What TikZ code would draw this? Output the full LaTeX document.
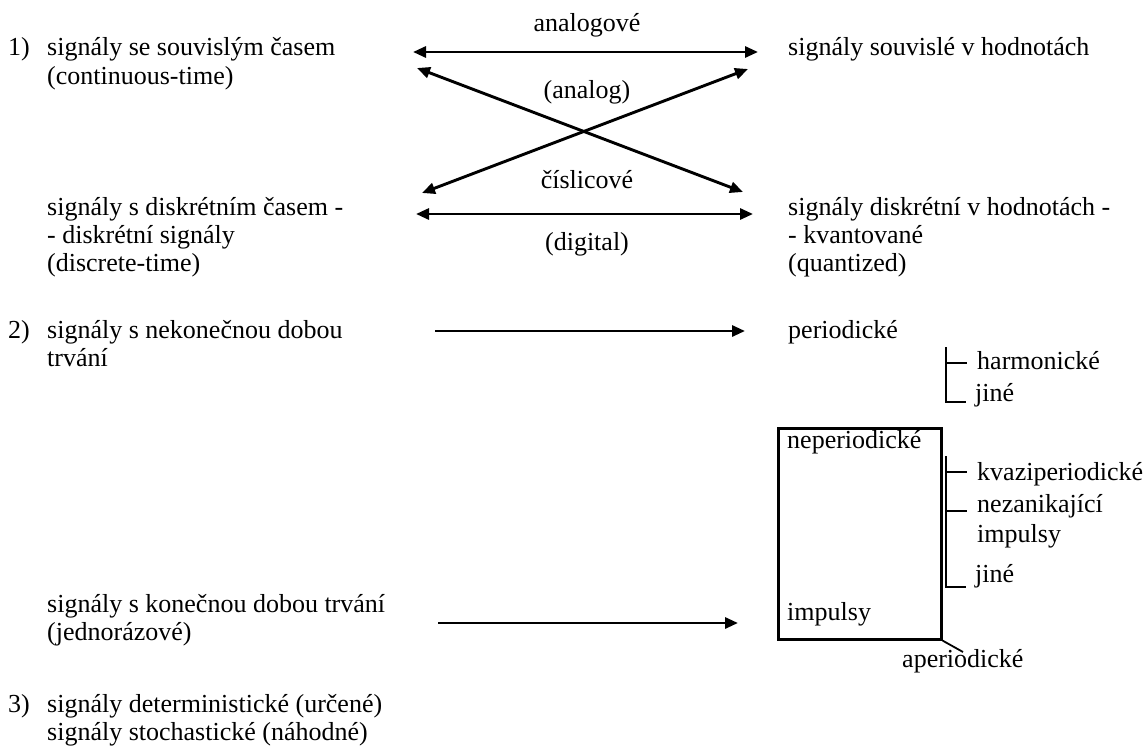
\documentclass[tikz,border=0pt]{standalone}
\usepackage{fontspec}
\setmainfont{Liberation Serif}
\usetikzlibrary{arrows.meta}
\newcommand\txtsize{\fontsize{26}{28}\selectfont}
\begin{document}
\begin{tikzpicture}[x=1pt,y=-1pt,
  txt/.style={anchor=base west,inner sep=0pt,font=\txtsize},
  ctxt/.style={anchor=base,inner sep=0pt,font=\txtsize},
  arr/.style={line width=2.9pt,-{Triangle[length=13pt,width=11pt]}},
  darr/.style={line width=2.9pt,{Triangle[length=13pt,width=11pt]}-{Triangle[length=13pt,width=11pt]}},
  brk/.style={line width=2.6pt},
  boxst/.style={draw,line width=2.6pt,inner sep=0pt}]
\useasboundingbox (0,0) rectangle (1147,752);
% numbers
\node[txt] (n1) at (8,56) {1)};
\node[txt] (n2) at (8,338) {2)};
\node[txt] (n3) at (8,712) {3)};
% left column
\node[txt] (a1) at (47,56) {signály se souvislým časem};
\node[txt] (a2) at (47,84) {(continuous-time)};
\node[txt] (b1) at (47,215) {signály s diskrétním časem -};
\node[txt] (b2) at (47,243) {- diskrétní signály};
\node[txt] (b3) at (47,271) {(discrete-time)};
\node[txt] (c1) at (47,338) {signály s nekonečnou dobou};
\node[txt] (c2) at (47,366) {trvání};
\node[txt] (d1) at (47,612) {signály s konečnou dobou trvání};
\node[txt] (d2) at (47,640) {(jednorázové)};
\node[txt] (e1) at (47,712) {signály deterministické (určené)};
\node[txt] (e2) at (47,740) {signály stochastické (náhodné)};
% right column
\node[txt] (r1) at (788,56) {signály souvislé v hodnotách};
\node[txt] (r2) at (788,215) {signály diskrétní v hodnotách -};
\node[txt] (r3) at (788,243) {- kvantované};
\node[txt] (r4) at (788,271) {(quantized)};
\node[txt] (per) at (788,338) {periodické};
\node[txt] (harm) at (977,369) {harmonické};
\node[txt] (jine1) at (975,401) {jiné};
\node[txt] (kvazi) at (977,480) {kvaziperiodické};
\node[txt] (nezan) at (977,512) {nezanikající};
\node[txt] (imp2) at (977,542) {impulsy};
\node[txt] (jine2) at (975,582) {jiné};
% box
\node[boxst,minimum width=163pt,minimum height=211pt,anchor=north west] (box) at (777,427) {};
\node[txt] (neper) at (787,448) {neperiodické};
\node[txt] (imp) at (787,620) {impulsy};
\node[txt] (aper) at (902,667) {aperiodické};
% middle labels
\node[ctxt] (lanal) at (587,32) {analogové};
\node[ctxt] (lanal2) at (587,98) {(analog)};
\node[ctxt] (lcisl) at (587,188) {číslicové};
\node[ctxt] (ldig) at (587,250) {(digital)};
% arrow end points
\coordinate (t1) at (413,52);
\coordinate (t2) at (758,52);
\coordinate (x1) at (417,68);
\coordinate (x2) at (743,192);
\coordinate (y1) at (422,193);
\coordinate (y2) at (748,69);
\coordinate (u1) at (416,214);
\coordinate (u2) at (753,214);
\coordinate (p1) at (435,331);
\coordinate (p2) at (745,331);
\coordinate (q1) at (438,623);
\coordinate (q2) at (738,623);
\draw[darr] (t1) -- (t2);
\draw[darr] (x1) -- (x2);
\draw[darr] (y1) -- (y2);
\draw[darr] (u1) -- (u2);
\draw[arr] (p1) -- (p2);
\draw[arr] (q1) -- (q2);
% brackets
\coordinate (bk1t) at (946,347);
\coordinate (bk1b) at (946,402);
\draw[brk] (bk1t) -- (bk1b) -- ++(20,0);
\draw[brk] (946,363) -- ++(21,0);
\coordinate (bk2t) at (946,456);
\coordinate (bk2b) at (946,587);
\draw[brk] (bk2t) -- (bk2b) -- ++(20,0);
\draw[brk] (946,472) -- ++(21,0);
\draw[brk] (946,511) -- ++(21,0);
% aperiodic pointer
\coordinate (ap) at (963,652);
\draw[line width=1.8pt] (box.south east) -- (ap);
\end{tikzpicture}
\end{document}
